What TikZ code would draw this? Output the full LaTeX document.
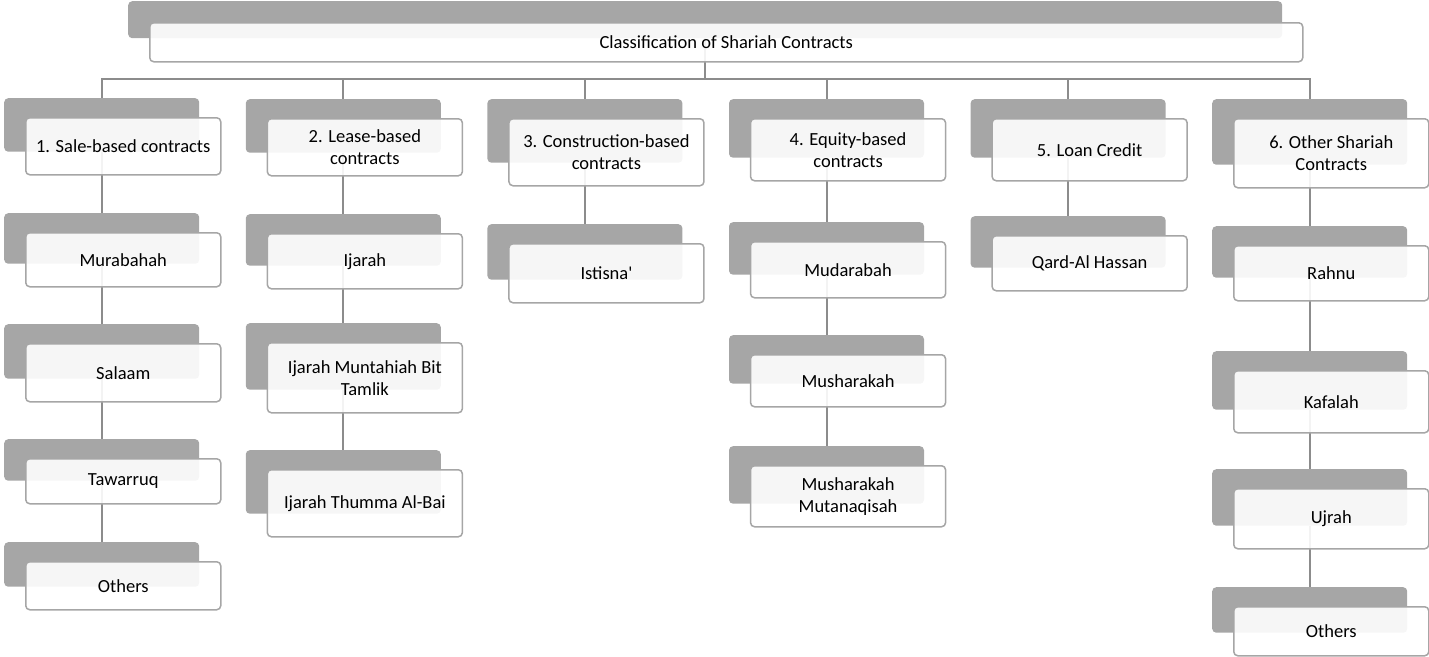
\documentclass[tikz,border=0pt]{standalone}
\usepackage{fontspec}
\setmainfont{Carlito}
\usetikzlibrary{positioning, backgrounds}
\definecolor{ShariahGrey}{HTML}{A6A6A6}
\definecolor{ShariahLine}{HTML}{8C8C8C}
\definecolor{ShariahWhite}{HTML}{FFFFFF}
\definecolor{ShariahBlack}{HTML}{000000}
\tikzset{
    backbox/.style={
        fill=ShariahGrey,
        draw=none,
        rounded corners=4pt,
        minimum width=195pt,
        inner sep=0pt,
        anchor=north west
    },
    frontbox/.style={
        draw=ShariahGrey,
        line width=1.5pt,
        fill=ShariahWhite,
        fill opacity=0.9,
        text opacity=1,
        text=ShariahBlack,
        rounded corners=4pt,
        minimum width=195pt,
        inner sep=0pt,
        align=center,
        font=\fontsize{18.5}{22}\selectfont,
        anchor=north west
    },
    link/.style={
        draw=ShariahLine,
        line width=2pt
    }
}
% grey card behind (#1b) and white card in front (#1)
\newcommand{\contract}[5]{%
    \node[backbox, minimum height=#4pt-3.5pt] (#1b) at (#2-21,#3-19) {};
    \node[frontbox, minimum height=#4pt] (#1) at (#2,#3) {#5};
}

\begin{document}
\begin{tikzpicture}[x=1pt, y=-1pt]
        \useasboundingbox (0,0) rectangle (1429,656);

        % Title
        \node[backbox, minimum width=1154pt, minimum height=37pt] (topb) at (128,1) {};
        \node[frontbox, minimum width=1153pt, minimum height=39pt] (top) at (149,22) {Classification of Shariah Contracts};

        % 1. Sale-based
        \contract{sale}{25}{117}{57}{1. Sale-based contracts}
        \contract{murab}{25}{232}{54}{Murabahah}
        \contract{salaam}{25}{343}{58}{Salaam}
        \contract{tawar}{25}{458}{45}{Tawarruq}
        \contract{othsale}{25}{561}{48}{Others}

        % 2. Lease-based
        \contract{lease}{266.6}{118}{57}{2. Lease-based\\contracts}
        \contract{ijarah}{266.6}{233}{55}{Ijarah}
        \contract{imbt}{266.6}{342}{70}{Ijarah Muntahiah Bit\\Tamlik}
        \contract{ithumma}{266.6}{469}{67}{Ijarah Thumma Al-Bai}

        % 3. Construction-based
        \contract{constr}{508.2}{118}{67}{3. Construction-based\\contracts}
        \contract{istisna}{508.2}{243}{59}{Istisna\textquotesingle}

        % 4. Equity-based
        \contract{equity}{749.8}{118}{62}{4. Equity-based\\contracts}
        \contract{mudar}{749.8}{241}{56}{Mudarabah}
        \contract{mushar}{749.8}{354}{52}{Musharakah}
        \contract{mutanaq}{749.8}{465}{61}{Musharakah\\Mutanaqisah}

        % 5. Loan
        \contract{loan}{991.4}{118}{62}{5. Loan Credit}
        \contract{qard}{991.4}{235}{55}{Qard-Al Hassan}

        % 6. Other
        \contract{other}{1233}{118}{69}{6. Other Shariah\\Contracts}
        \contract{rahnu}{1233}{245}{55}{Rahnu}
        \contract{kafalah}{1233}{370}{62}{Kafalah}
        \contract{ujrah}{1233}{488}{60}{Ujrah}
        \contract{othother}{1233}{606}{49}{Others}

        % Connectors
        \begin{scope}[on background layer]
            \coordinate (bus) at (0,79);
            \draw[link] (topb) -- (topb |- bus);
            \draw[link] (saleb.north) |- (topb |- bus) -| (otherb.north);
            \draw[link] (leaseb.north) -- (leaseb |- bus);
            \draw[link] (constrb.north) -- (constrb |- bus);
            \draw[link] (equityb.north) -- (equityb |- bus);
            \draw[link] (loanb.north) -- (loanb |- bus);

            \draw[link] (saleb) -- (murabb) -- (salaamb) -- (tawarb) -- (othsaleb);
            \draw[link] (leaseb) -- (ijarahb) -- (imbtb) -- (ithummab);
            \draw[link] (constrb) -- (istisnab);
            \draw[link] (equityb) -- (mudarb) -- (musharb) -- (mutanaqb);
            \draw[link] (loanb) -- (qardb);
            \draw[link] (otherb) -- (rahnub) -- (kafalahb) -- (ujrahb) -- (othotherb);
        \end{scope}
    \end{tikzpicture}
\end{document}
